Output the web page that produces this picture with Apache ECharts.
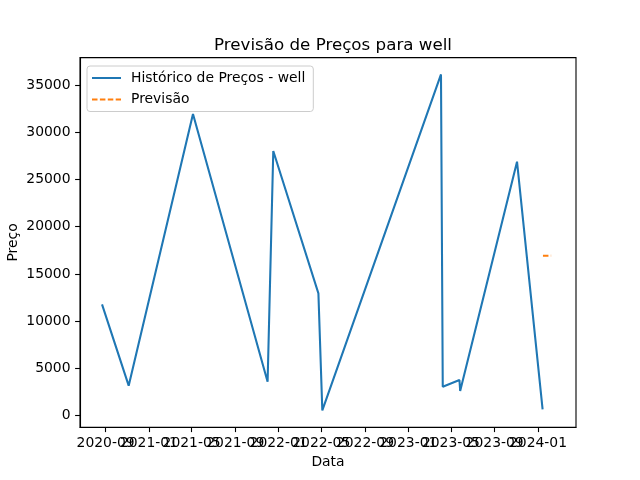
<!DOCTYPE html>
<html>
<head>
<meta charset="utf-8">
<script src="https://cdn.jsdelivr.net/npm/echarts@6/dist/echarts.min.js"></script>
<style>
  html, body { margin: 0; padding: 0; background: #fff; }
  #chart { width: 640px; height: 480px; }
</style>
</head>
<body>
<div id="chart"></div>
<script>
// histórico de preços
var histDates = ['2020-08-22', '2020-11-05', '2021-05-05', '2021-12-01', '2021-12-17',
                 '2022-04-23', '2022-05-04', '2023-04-03', '2023-04-08', '2023-05-25',
                 '2023-05-27', '2023-11-03', '2024-01-14'];
var histValues = [11790, 3180, 31930, 3600, 28010, 12950, 560, 36120, 3070, 3780, 2610, 26880, 680];

// previsão
var fcDates = ['2024-01-15', '2024-02-07'];
var fcValues = [16930, 16940];

// rótulos dos eixos
var xTicks = ['2020-09-01', '2021-01-01', '2021-05-01', '2021-09-01', '2022-01-01', '2022-05-01',
              '2022-09-01', '2023-01-01', '2023-05-01', '2023-09-01', '2024-01-01'];
var yTicks = [0, 5000, 10000, 15000, 20000, 25000, 30000, 35000];

function ts(s) {
    var p = s.split('-');
    return Date.UTC(+p[0], +p[1] - 1, +p[2]);
}
function pair(dates, vals) {
    return dates.map(function (d, i) { return [ts(d), vals[i]]; });
}
function fmtDate(v) {
    var d = new Date(v);
    var m = d.getUTCMonth() + 1;
    return d.getUTCFullYear() + '-' + (m < 10 ? '0' + m : m);
}

var font = 'DejaVu Sans';
var xMin = ts('2020-06-21'), xMax = ts('2024-04-17');
// os rótulos se sobrepõem como no original: metade em cada eixo para o echarts não esconder nenhum
var xEven = xTicks.filter(function (d, i) { return i % 2 === 0; }).map(ts);
var xOdd = xTicks.filter(function (d, i) { return i % 2 === 1; }).map(ts);

var labelStyle = {
    margin: 9.5,
    fontFamily: font, fontSize: 13.9, color: '#000',
    hideOverlap: false,
    showMinLabel: true,
    showMaxLabel: true,
    formatter: fmtDate
};

var myChart = echarts.init(document.getElementById('chart'));

var option = {
    animation: false,
    textStyle: { fontFamily: font },
    title: {
        text: 'Previsão de Preços para well',
        left: 328,
        textAlign: 'center',
        top: 32,
        textStyle: { fontFamily: font, fontSize: 16.7, fontWeight: 'normal', color: '#000' }
    },
    legend: {
        orient: 'vertical',
        left: 87,
        top: 66,
        padding: [5, 8, 5, 4],
        itemWidth: 29,
        itemHeight: 14,
        itemGap: 7.5,
        itemStyle: { opacity: 0 },
        backgroundColor: 'rgba(255,255,255,0.8)',
        borderColor: '#cccccc',
        borderWidth: 1,
        borderRadius: 3,
        textStyle: { fontFamily: font, fontSize: 13.9, color: '#000', padding: [0, 0, 0, 5] },
        data: ['Histórico de Preços - well', 'Previsão']
    },
    grid: {
        left: 80,
        right: 64,
        top: 57.6,
        bottom: 52.8,
        show: true,
        borderColor: '#000',
        borderWidth: 1.1,
        containLabel: false,
        outerBoundsMode: 'none'
    },
    xAxis: [{
        type: 'value',
        min: xMin,
        max: xMax,
        position: 'bottom',
        name: 'Data',
        nameLocation: 'middle',
        nameGap: 28,
        nameMoveOverlap: false,
        nameTextStyle: { fontFamily: font, fontSize: 13.9, color: '#000' },
        axisLine: { show: true, onZero: false, lineStyle: { color: '#000', width: 1.1 } },
        axisTick: { show: true, inside: false, length: 4.9, lineStyle: { color: '#000', width: 1.1 },
                    customValues: xTicks.map(ts) },
        axisLabel: Object.assign({ customValues: xEven }, labelStyle),
        splitLine: { show: false }
    }, {
        type: 'value',
        min: xMin,
        max: xMax,
        position: 'bottom',
        axisLine: { show: false, onZero: false },
        axisTick: { show: false },
        axisLabel: Object.assign({ customValues: xOdd }, labelStyle),
        splitLine: { show: false }
    }],
    yAxis: {
        type: 'value',
        min: -1217,
        max: 37901,
        name: 'Preço',
        nameLocation: 'middle',
        nameGap: 60,
        nameMoveOverlap: false,
        nameTextStyle: { fontFamily: font, fontSize: 13.9, color: '#000' },
        axisLine: { show: true, onZero: false, lineStyle: { color: '#000', width: 1.1 } },
        axisTick: { show: true, inside: false, length: 4.9, lineStyle: { color: '#000', width: 1.1 },
                    customValues: yTicks },
        axisLabel: {
            margin: 9.5,
            fontFamily: font, fontSize: 13.9, color: '#000',
            customValues: yTicks,
            showMinLabel: true,
            showMaxLabel: true,
            formatter: function (v) { return String(v); }
        },
        splitLine: { show: false }
    },
    series: [
        {
            name: 'Histórico de Preços - well',
            type: 'line',
            symbol: 'none',
            color: '#1f77b4',
            lineStyle: { color: '#1f77b4', width: 2.08 },
            data: pair(histDates, histValues)
        },
        {
            name: 'Previsão',
            type: 'line',
            symbol: 'none',
            color: '#ff7f0e',
            lineStyle: { color: '#ff7f0e', width: 2.08, type: [5.5, 2.4] },
            data: pair(fcDates, fcValues)
        }
    ]
};

myChart.setOption(option);
window.addEventListener('resize', function () {
    myChart.resize();
});
</script>
</body>
</html>
